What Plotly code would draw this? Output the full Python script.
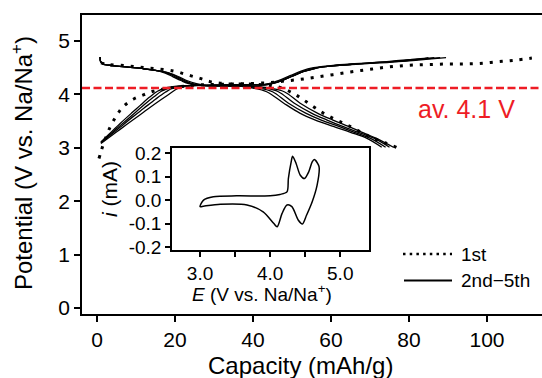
import plotly.graph_objects as go

# Galvanostatic charge/discharge data: capacity (mAh/g) vs potential (V vs. Na/Na+)
# First cycle
cyc1_chg_cap = [0.5, 1.0, 1.6, 3.3, 5.0, 6.7, 9.3, 11.9, 14.4, 17.0, 19.6, 23, 27, 32, 38, 44, 48, 52,
                56, 60.5, 65, 69, 73, 77, 81, 85.5, 90, 94, 98, 102.5, 107, 111.5]
cyc1_chg_v = [2.80, 2.92, 3.06, 3.38, 3.60, 3.77, 3.91, 3.99, 4.06, 4.10, 4.13, 4.16, 4.18, 4.19, 4.20,
              4.22, 4.25, 4.28, 4.32, 4.37, 4.42, 4.46, 4.50, 4.53, 4.55, 4.56, 4.57, 4.57, 4.58, 4.61,
              4.64, 4.68]
cyc1_dis_cap = [1.0, 3, 7, 11, 15, 19.6, 23, 26.4, 29, 33, 40, 46, 50.3, 52.9, 55.5, 58, 60.6, 63.2,
                65.7, 68.3, 70.8, 74, 77]
cyc1_dis_v = [4.59, 4.56, 4.54, 4.51, 4.48, 4.44, 4.37, 4.30, 4.24, 4.20, 4.19, 4.15, 4.02, 3.90, 3.77,
              3.65, 3.55, 3.46, 3.37, 3.27, 3.18, 3.09, 3.00]

# Cycles 2-5, charge
chg_cap = {
    2: [1.0, 3, 6, 9, 12, 15, 18, 21, 24, 28, 34, 40, 44, 47, 50, 53, 56, 60, 65, 70, 75, 80, 85, 89.5],
    3: [1.0, 3, 6, 9, 12, 15, 17.5, 19.5, 23, 28, 34, 40, 44, 47, 50, 53, 56, 60, 65, 70, 75, 80, 85, 88],
    4: [1.0, 3, 6, 9, 12, 14.5, 16.5, 18.5, 22, 28, 34, 40, 44, 47, 50, 53, 56, 60, 65, 70, 75, 80, 84, 86.5],
    5: [1.0, 3, 6, 9, 11, 13.5, 15.5, 17.5, 21, 28, 34, 40, 43.5, 46.5, 49.5, 52.5, 55.5, 60, 65, 70, 75, 80, 83, 85],
}
chg_v = {
    2: [3.08, 3.19, 3.35, 3.51, 3.67, 3.83, 3.98, 4.12, 4.16, 4.17, 4.18, 4.18, 4.19, 4.25, 4.34,
        4.43, 4.49, 4.53, 4.56, 4.58, 4.60, 4.63, 4.66, 4.69],
    3: [3.09, 3.21, 3.39, 3.57, 3.74, 3.91, 4.04, 4.12, 4.16, 4.17, 4.18, 4.18, 4.19, 4.25, 4.34,
        4.43, 4.49, 4.53, 4.56, 4.59, 4.61, 4.64, 4.67, 4.69],
    4: [3.10, 3.23, 3.42, 3.61, 3.80, 3.95, 4.06, 4.12, 4.16, 4.17, 4.18, 4.18, 4.19, 4.25, 4.34,
        4.43, 4.49, 4.53, 4.56, 4.59, 4.61, 4.64, 4.67, 4.69],
    5: [3.11, 3.25, 3.46, 3.66, 3.79, 3.95, 4.06, 4.12, 4.16, 4.17, 4.18, 4.18, 4.19, 4.26, 4.35,
        4.44, 4.50, 4.54, 4.57, 4.59, 4.62, 4.65, 4.67, 4.69],
}

# Cycles 2-5, discharge
dis_cap = {
    2: [0.8, 0.9, 1.5, 4, 8, 12, 15, 18.5, 21, 23, 25.5, 28, 34, 40, 44, 48, 52, 56.5, 60.5, 64.5, 68, 71.5, 76],
    3: [0.8, 0.9, 1.5, 4, 8, 12, 15, 18.5, 20.5, 22.5, 24.5, 27, 33, 39, 43, 46.5, 50.5, 55, 59, 63, 67, 71, 75],
    4: [0.8, 0.9, 1.5, 4, 8, 12, 15, 18, 20, 22, 24, 26.5, 32, 38, 41.5, 45, 49, 53.5, 57.5, 62, 66, 70, 74],
    5: [0.8, 0.9, 1.5, 4, 8, 12, 15, 17.5, 19.5, 21.5, 23.5, 26, 32, 37, 40, 43.5, 47.8, 52, 56, 60.6, 65, 69.1, 73],
}
dis_v_profile = [4.70, 4.62, 4.57, 4.54, 4.51, 4.48, 4.45, 4.40, 4.33, 4.26, 4.20, 4.17, 4.16, 4.15,
                 4.12, 4.05, 3.84, 3.65, 3.52, 3.40, 3.29, 3.18, 3.01]

avg_potential = 4.12

# Cyclic voltammogram (inset): potential E (V) and current i (mA)
cv_e = [3.00, 3.05, 3.19, 3.52, 4.00, 4.14, 4.24, 4.26, 4.30, 4.32, 4.37, 4.43, 4.49, 4.55, 4.60, 4.63,
        4.69, 4.70, 4.67, 4.60, 4.52, 4.46, 4.40, 4.31, 4.24, 4.17, 4.10, 4.05, 3.90, 3.67, 3.29, 3.05, 3.00]
cv_i = [-0.028, 0.000, 0.014, 0.018, 0.018, 0.024, 0.035, 0.092, 0.163, 0.187, 0.156, 0.106, 0.092,
        0.120, 0.163, 0.173, 0.149, 0.137, 0.064, -0.007, -0.064, -0.102, -0.085, -0.028, -0.021,
        -0.057, -0.114, -0.099, -0.050, -0.021, -0.018, -0.026, -0.028]

x_ticks = [0, 20, 40, 60, 80, 100]
y_ticks = [0, 1, 2, 3, 4, 5]
cv_x_ticks = [3.0, 3.5, 4.0, 4.5, 5.0]
cv_x_labels = ["3.0", "", "4.0", "", "5.0"]
cv_y_ticks = [0.2, 0.1, 0.0, -0.1, -0.2]
cv_y_labels = ["0.2", "0.1", "0.0", "-0.1", "-0.2"]

FONT = "Liberation Sans, Arial, Helvetica, sans-serif"
L, T, B = 82, 15, 64
W, H = 542, 378
PW, PH = W - L, H - T - B


def px_x(px):
    return (px - L) / PW


def px_y(py):
    return (H - B - py) / PH


fig = go.Figure()

solid = dict(color="black", width=1.3)
for c in (2, 3, 4, 5):
    fig.add_trace(go.Scatter(x=chg_cap[c], y=chg_v[c], mode="lines", line=dict(**solid, shape="spline"),
                             showlegend=False, hoverinfo="skip"))
    fig.add_trace(go.Scatter(x=dis_cap[c], y=dis_v_profile, mode="lines", line=dict(**solid, shape="spline"),
                             showlegend=False, hoverinfo="skip"))

dotted = dict(color="black", width=3, dash="3px,7px", shape="spline")
fig.add_trace(go.Scatter(x=cyc1_chg_cap, y=cyc1_chg_v, mode="lines", line=dotted,
                         showlegend=False, hoverinfo="skip"))
fig.add_trace(go.Scatter(x=cyc1_dis_cap, y=cyc1_dis_v, mode="lines", line=dotted,
                         showlegend=False, hoverinfo="skip"))

# Inset CV
fig.add_trace(go.Scatter(x=cv_e, y=cv_i, mode="lines", xaxis="x2", yaxis="y2",
                         line=dict(color="black", width=1.5, shape="spline", smoothing=0.8),
                         showlegend=False, hoverinfo="skip"))

# Average potential line
fig.add_shape(type="line", xref="paper", x0=0, x1=1, yref="y", y0=avg_potential, y1=avg_potential,
              line=dict(color="#ee1c25", width=2.4, dash="8px,3.5px"), layer="above")

axis_common = dict(showline=True, linecolor="black", linewidth=1.5, ticks="outside", ticklen=6,
                   tickwidth=1.5, tickcolor="black", showgrid=False, zeroline=False)

fig.update_layout(
    width=W, height=H,
    margin=dict(l=L, r=0, t=T, b=B),
    paper_bgcolor="white", plot_bgcolor="white",
    font=dict(family=FONT, color="black"),
    xaxis=dict(range=[-3.85, 114.1], tickvals=x_ticks, mirror=True,
               tickfont=dict(size=21), **axis_common),
    yaxis=dict(range=[-0.112, 5.487], tickvals=y_ticks, tickfont=dict(size=21), **axis_common),
    xaxis2=dict(domain=[px_x(172), px_x(369)], anchor="y2", range=[2.6, 5.41],
                tickvals=cv_x_ticks, ticktext=cv_x_labels, mirror=True,
                tickfont=dict(size=19), **{**axis_common, "ticklen": 5}),
    yaxis2=dict(domain=[px_y(250), px_y(148)], anchor="x2", range=[-0.213, 0.222],
                tickvals=cv_y_ticks, ticktext=cv_y_labels, mirror=True,
                tickfont=dict(size=19), **{**axis_common, "ticklen": 5}),
)

annotations = [
    dict(text="Capacity (mAh/g)", x=px_x(300), y=px_y(366), font=dict(size=24)),
    dict(text="Potential (V vs. Na/Na<sup>+</sup>)", x=px_x(22), y=px_y(163), textangle=-90,
         font=dict(size=24)),
    dict(text="av. 4.1 V", x=px_x(466), y=px_y(109), font=dict(size=25, color="#ee1c25")),
    dict(text="<i>E</i> (V vs. Na/Na<sup>+</sup>)", x=px_x(262), y=px_y(293), font=dict(size=19)),
    dict(text="<i>i</i> (mA)", x=px_x(109), y=px_y(189), textangle=-90, font=dict(size=21)),
    dict(text="1st", x=px_x(459), y=px_y(254), xanchor="left", font=dict(size=19)),
    dict(text="2nd\u22125th", x=px_x(459), y=px_y(280), xanchor="left", font=dict(size=19)),
]
for a in annotations:
    a.setdefault("xanchor", "center")
    fig.add_annotation(xref="paper", yref="paper", yanchor="middle", showarrow=False, **a)

# Legend samples
fig.add_shape(type="line", xref="paper", yref="paper", x0=px_x(403), x1=px_x(452),
              y0=px_y(254), y1=px_y(254), line=dict(color="black", width=2.5, dash="2.5px,4.2px"))
fig.add_shape(type="line", xref="paper", yref="paper", x0=px_x(404), x1=px_x(452),
              y0=px_y(280.5), y1=px_y(280.5), line=dict(color="black", width=2))

fig.write_html("out.html")
